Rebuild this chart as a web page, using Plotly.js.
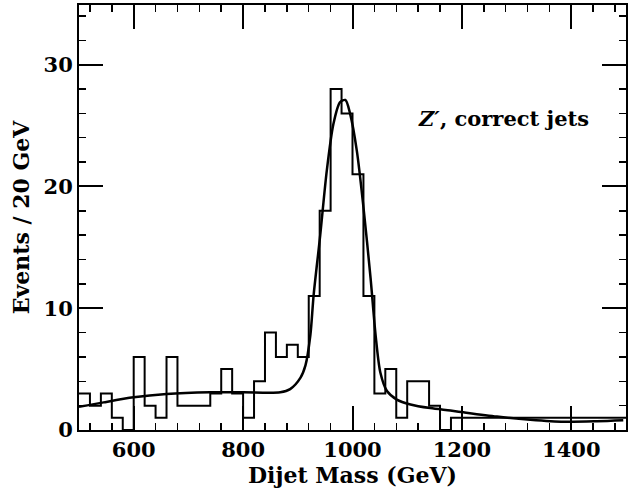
<!DOCTYPE html>
<html>
<head>
<meta charset="utf-8">
<script src="https://cdn.plot.ly/plotly-3.0.1.min.js"></script>
<style>
  html, body { margin: 0; padding: 0; background: #fff; }
  #chart { width: 628px; height: 498px; }
</style>
</head>
<body>
<div id="chart"></div>
<script>
// Histogram: left edges of the 20 GeV bins and the counts
const binLow = [500, 520, 540, 560, 580, 600, 620, 640, 660, 680,
                700, 720, 740, 760, 780, 800, 820, 840, 860, 880,
                900, 920, 940, 960, 980, 1000, 1020, 1040, 1060, 1080,
                1100, 1120, 1140, 1160, 1180, 1200, 1220, 1240, 1260, 1280,
                1300, 1320, 1340, 1360, 1380, 1400, 1420, 1440, 1460, 1480];
const binHigh = 1500;
const counts = [3, 2, 3, 1, 0, 6, 2, 1, 6, 2,
                2, 2, 3, 5, 3, 1, 4, 8, 6, 7,
                6, 11, 18, 28, 26, 21, 11, 3, 5, 1,
                4, 4, 2, 0, 1, 1, 1, 1, 1, 1,
                1, 1, 1, 1, 1, 1, 1, 1, 1, 1];

// Fitted curve, points
const fitMass = [500, 545, 600, 660, 740, 800, 868, 886, 905, 914, 923, 929, 941, 953,
                 965, 977, 987, 996, 1008, 1020, 1033, 1042, 1051, 1063, 1081, 1106,
                 1142, 1179, 1203, 1264, 1325, 1386, 1447, 1495];
const fitEvents = [1.9, 2.27, 2.68, 2.95, 3.09, 3.1, 3.1, 3.36, 4.3, 5.3, 7.8, 11.1, 16, 21.3,
                   25.1, 26.9, 27.1, 25.9, 22.9, 18.3, 12.5, 7.9, 4.7, 3.2, 2.5, 2.1,
                   1.8, 1.6, 1.45, 1.1, 0.85, 0.68, 0.72, 0.8];

const xTickVals = [600, 800, 1000, 1200, 1400];
const yTickVals = [0, 10, 20, 30];
const labelText = '<i>Z′</i>, correct jets';
const xTitle = 'Dijet Mass (GeV)';
const yTitle = 'Events / 20 GeV';

const stepX = binLow.concat([binHigh]);
const stepY = counts.concat([counts[counts.length - 1]]);

const FONT = 'DejaVu Serif, Liberation Serif, serif';

const traces = [
  {
    x: stepX, y: stepY, type: 'scatter', mode: 'lines',
    line: { shape: 'hv', color: '#000', width: 2 },
    hoverinfo: 'skip', showlegend: false
  },
  {
    x: fitMass, y: fitEvents, type: 'scatter', mode: 'lines',
    line: { shape: 'spline', smoothing: 0.8, color: '#000', width: 2.5 },
    hoverinfo: 'skip', showlegend: false
  }
];

const axisCommon = {
  showgrid: false, zeroline: false,
  showline: true, linecolor: '#000', linewidth: 2, mirror: 'ticks',
  ticks: 'inside', ticklen: 24, tickwidth: 2, tickcolor: '#000',
  tickfont: { family: FONT, size: 21, color: '#000', weight: 'bold' }
};

const layout = {
  width: 628, height: 498,
  margin: { l: 79, r: 2, t: 5, b: 68 },
  paper_bgcolor: '#fff', plot_bgcolor: '#fff',
  showlegend: false,
  xaxis: Object.assign({}, axisCommon, {
    range: [500, 1500],
    tickmode: 'array', tickvals: xTickVals,
    minor: { dtick: 40, tick0: 0, ticks: 'inside', ticklen: 7, tickwidth: 1.5, tickcolor: '#000', showgrid: false },
    title: { text: xTitle, font: { family: FONT, size: 22, color: '#000', weight: 'bold' }, standoff: 6 }
  }),
  yaxis: Object.assign({}, axisCommon, {
    range: [0, 34.9],
    tickmode: 'array', tickvals: yTickVals,
    minor: { dtick: 2, tick0: 0, ticks: 'inside', ticklen: 7, tickwidth: 1.5, tickcolor: '#000', showgrid: false },
    title: { text: yTitle, font: { family: FONT, size: 22, color: '#000', weight: 'bold' }, standoff: 8 }
  }),
  annotations: [{
    x: 1276, y: 25.6, xref: 'x', yref: 'y',
    text: labelText, showarrow: false,
    xanchor: 'center', yanchor: 'middle',
    font: { family: FONT, size: 21, color: '#000', weight: 'bold' }
  }]
};

Plotly.newPlot('chart', traces, layout, { staticPlot: true, displayModeBar: false });
</script>
</body>
</html>
